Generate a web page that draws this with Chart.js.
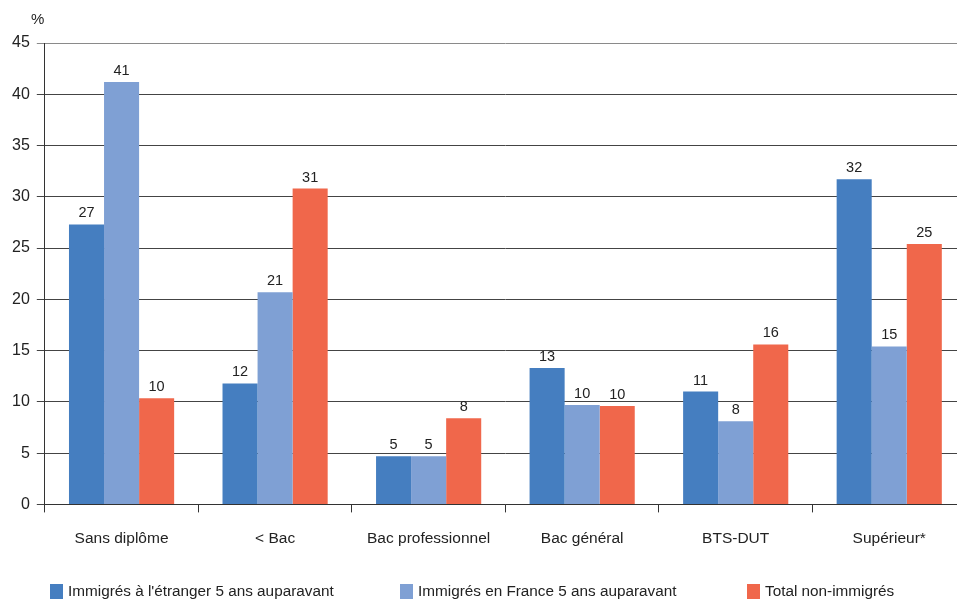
<!DOCTYPE html>
<html>
<head>
<meta charset="utf-8">
<script src="https://cdn.jsdelivr.net/npm/chart.js@4/dist/chart.umd.min.js"></script>
<style>
html,body{margin:0;padding:0;background:#fff;overflow:hidden;}
#wrap{position:relative;width:966px;height:606px;}
</style>
</head>
<body>
<div id="wrap"><canvas id="c"></canvas></div>
<script>
const categories = ["Sans diplôme", "< Bac", "Bac professionnel", "Bac général", "BTS-DUT", "Supérieur*"];
const seriesNames = ["Immigrés à l'étranger 5 ans auparavant", "Immigrés en France 5 ans auparavant", "Total non-immigrés"];
const etranger = [27.3, 11.8, 4.7, 13.3, 11.0, 31.7];
const france = [41.2, 20.7, 4.7, 9.7, 8.1, 15.4];
const nonImmigres = [10.35, 30.8, 8.4, 9.6, 15.6, 25.4];
const yTicks = [0, 5, 10, 15, 20, 25, 30, 35, 40, 45];
const colors = ["#457EC0", "#7FA0D4", "#F0674B"];
const FONT = "'Liberation Sans', Arial, Helvetica, sans-serif";

const valueLabels = {
  id: 'valueLabels',
  afterDatasetsDraw(chart) {
    const ctx = chart.ctx;
    ctx.save();
    ctx.font = "14.5px " + FONT;
    ctx.fillStyle = "#222";
    ctx.textAlign = "center";
    ctx.textBaseline = "alphabetic";
    chart.data.datasets.forEach((ds, i) => {
      const meta = chart.getDatasetMeta(i);
      meta.data.forEach((bar, j) => {
        ctx.fillText(String(Math.round(ds.data[j])), bar.x, bar.y - 7);
      });
    });
    ctx.restore();
  }
};

const extras = {
  id: 'extras',
  afterDraw(chart) {
    const ctx = chart.ctx;
    ctx.save();
    ctx.fillStyle = "#222";
    ctx.font = "15px " + FONT;
    ctx.textAlign = "left";
    ctx.textBaseline = "middle";
    ctx.fillText("%", 31, 20);
    const starts = [50, 400, 747];
    const y = 592;
    chart.data.datasets.forEach((ds, i) => {
      ctx.fillStyle = ds.backgroundColor;
      ctx.fillRect(starts[i], y - 8, 13, 16);
      ctx.fillStyle = "#222";
      ctx.font = "15.3px " + FONT;
      ctx.fillText(ds.label, starts[i] + 18, y);
    });
    ctx.restore();
  }
};

new Chart(document.getElementById('c'), {
  type: 'bar',
  data: {
    labels: categories,
    datasets: [
      { label: seriesNames[0], data: etranger, backgroundColor: colors[0] },
      { label: seriesNames[1], data: france, backgroundColor: colors[1] },
      { label: seriesNames[2], data: nonImmigres, backgroundColor: colors[2] }
    ]
  },
  options: {
    responsive: true,
    maintainAspectRatio: false,
    animation: false,
    layout: { padding: { top: 43, left: 5, right: 0, bottom: 41 } },
    datasets: { bar: { categoryPercentage: 0.685, barPercentage: 1.0 } },
    plugins: { legend: { display: false }, tooltip: { enabled: false }, title: { display: false } },
    scales: {
      x: {
        grid: { display: true, drawOnChartArea: false, drawTicks: true, tickLength: 8, color: "#333", offset: true },
        border: { display: true, color: "#333", width: 1 },
        ticks: { color: "#222", font: { family: FONT, size: 15.5 }, padding: 17, maxRotation: 0 }
      },
      y: {
        min: 0, max: 45,
        afterBuildTicks(scale) { scale.ticks = yTicks.map(v => ({ value: v })); },
        grid: { color: (c) => c.tick && c.tick.value === 45 ? "#8a8a8a" : "#444", lineWidth: 1, tickLength: 8 },
        border: { display: true, color: "#333", width: 1 },
        ticks: { color: "#222", font: { family: FONT, size: 16 }, padding: 7 }
      }
    }
  },
  plugins: [valueLabels, extras]
});
</script>
</body>
</html>
